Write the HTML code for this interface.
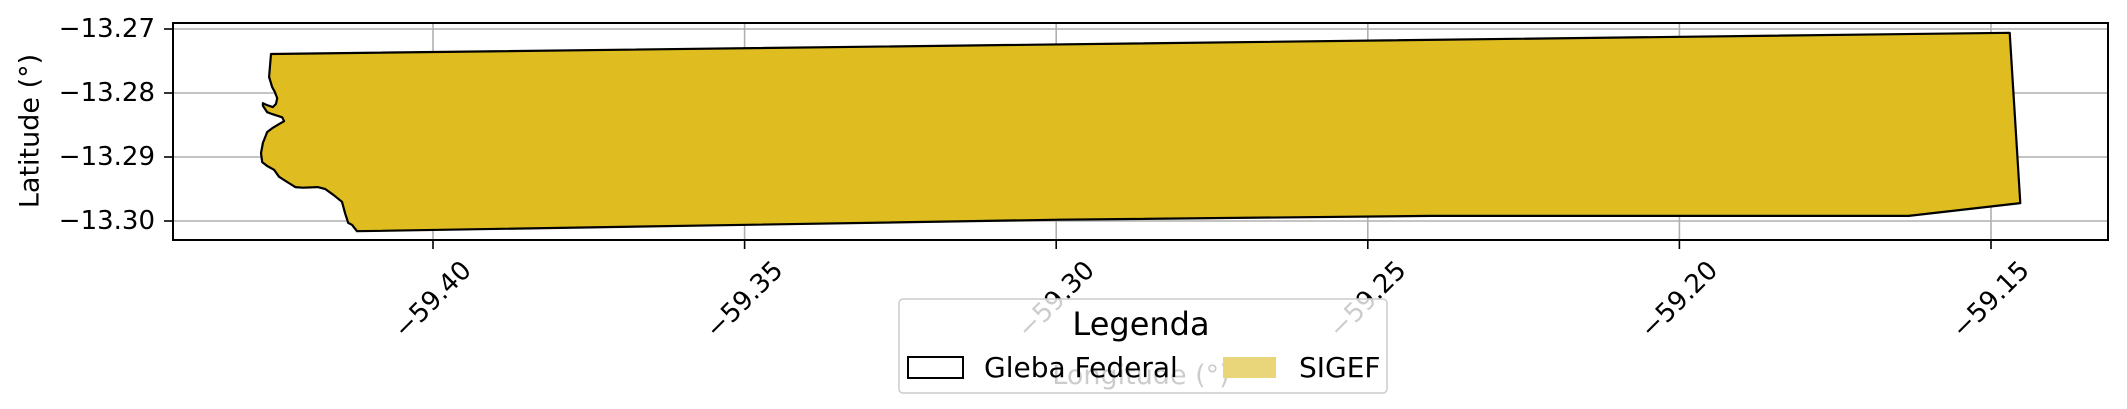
<!DOCTYPE html>
<html><head><meta charset="utf-8"><style>
html,body{margin:0;padding:0;background:#fff;}
svg{display:block;font-family:"DejaVu Sans","Liberation Sans",sans-serif;}
</style></head><body>
<svg id="chart" width="2127" height="409" viewBox="0 0 2127 409" xmlns="http://www.w3.org/2000/svg">
<g id="grid"></g>
<g id="polys"></g>
<rect x="173" y="23" width="1935" height="217" fill="none" stroke="#000" stroke-width="2"/>
<g id="ticks"></g>
<text transform="translate(30,131) rotate(-90)" text-anchor="middle" dominant-baseline="central" font-size="27">Latitude (°)</text>
<text x="1141" y="384" text-anchor="middle" font-size="27">Longitude (°)</text>
<g>
<rect x="899" y="299" width="488" height="94" rx="4" fill="#fff" fill-opacity="0.8" stroke="#ccc" stroke-width="1.5"/>
<text x="1141" y="335" text-anchor="middle" font-size="32">Legenda</text>
<rect x="908" y="357" width="55" height="21" fill="none" stroke="#000" stroke-width="2"/>
<text x="984" y="377" font-size="28">Gleba Federal</text>
<rect x="1223" y="357" width="53" height="21" fill="#e9d67a"/>
<text x="1299" y="377" font-size="28">SIGEF</text>
</g>
</svg>
<script>
const xTicks = [-59.40, -59.35, -59.30, -59.25, -59.20, -59.15];
const xTickLabels = ["\u221259.40","\u221259.35","\u221259.30","\u221259.25","\u221259.20","\u221259.15"];
const yTicks = [-13.27, -13.28, -13.29, -13.30];
const yTickLabels = ["\u221213.27","\u221213.28","\u221213.29","\u221213.30"];
const polyLon = [-59.4260,-59.4263,-59.4258,-59.4254,-59.4250,-59.4252,-59.4257,-59.4266,-59.4273,-59.4273,-59.4266,-59.4258,-59.4242,-59.4239,-59.4246,-59.4258,-59.4266,-59.4273,-59.4276,-59.4274,-59.4266,-59.4255,-59.4247,-59.4234,-59.4221,-59.4209,-59.4185,-59.4173,-59.4160,-59.4146,-59.4141,-59.4136,-59.4130,-59.4122,-59.3496,-59.2994,-59.2399,-59.1632,-59.1453,-59.1470];
const polyLat = [-13.2739,-13.2775,-13.2791,-13.2798,-13.2808,-13.2817,-13.2822,-13.2819,-13.2816,-13.2820,-13.2830,-13.2833,-13.2838,-13.2844,-13.2848,-13.2855,-13.2861,-13.2878,-13.2894,-13.2908,-13.2914,-13.2920,-13.2931,-13.2939,-13.2947,-13.2948,-13.2947,-13.2950,-13.2959,-13.2970,-13.2988,-13.3003,-13.3006,-13.3016,-13.3006,-13.2998,-13.2992,-13.2992,-13.2972,-13.2706];

const NS="http://www.w3.org/2000/svg";
function xs(v){return 433+(v+59.40)/0.05*311.6;}
function ys(v){return 29+(-13.27-v)/0.01*64;}
function mk(tag,attrs,parent){const e=document.createElementNS(NS,tag);for(const k in attrs)e.setAttribute(k,attrs[k]);parent.appendChild(e);return e;}
const grid=document.getElementById('grid'), ticks=document.getElementById('ticks'), polys=document.getElementById('polys');

const pts=polyLon.map((v,i)=>xs(v).toFixed(1)+','+ys(polyLat[i]).toFixed(1)).join(' ');
const p=mk('polygon',{points:pts,fill:'#dfbd20',stroke:'#000','stroke-width':2.2,'stroke-linejoin':'round'},polys);



xTicks.forEach((v,i)=>{
  const x=xs(v);
  const g=mk('line',{x1:x,x2:x,y1:23,y2:240,stroke:'#b0b0b0','stroke-width':1.6},grid);
  
  
  const t=mk('line',{x1:x,x2:x,y1:240,y2:249,stroke:'#000','stroke-width':1.6},ticks);
  
  
  const l=mk('text',{x:x,y:300,'text-anchor':'middle','dominant-baseline':'central','font-size':26,transform:`rotate(-45 ${x} 300)`},ticks);
  l.textContent=xTickLabels[i];
  
  
});
yTicks.forEach((v,i)=>{
  const y=ys(v);
  const g=mk('line',{x1:173,x2:2108,y1:y,y2:y,stroke:'#b0b0b0','stroke-width':1.6},grid);
  
  
  const t=mk('line',{x1:164,x2:173,y1:y,y2:y,stroke:'#000','stroke-width':1.6},ticks);
  
  
  const l=mk('text',{x:155,y:y,'text-anchor':'end','dominant-baseline':'central','font-size':26},ticks);
  l.textContent=yTickLabels[i];
  
  
});
</script>
</body></html>
